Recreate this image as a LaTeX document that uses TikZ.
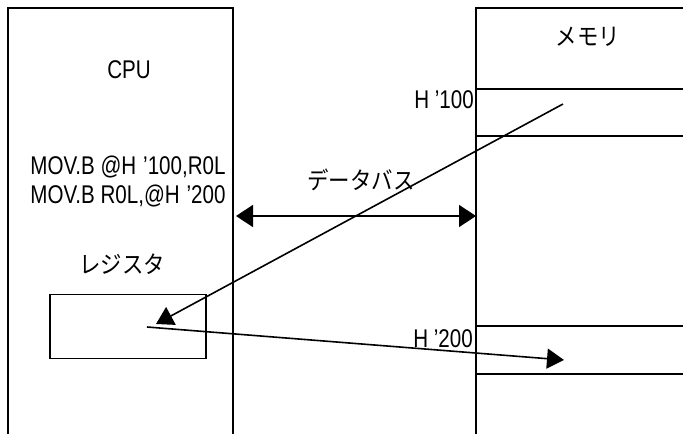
\documentclass[tikz,border=0pt]{standalone}
\usepackage{fontspec}
\setmainfont{Liberation Sans}
\newfontfamily\jp{Noto Sans CJK JP}
\usetikzlibrary{arrows.meta}
\begin{document}
\begin{tikzpicture}[x=1pt,y=-1pt,
  box/.style={line width=2pt},
  thin/.style={line width=1.6pt},
  lbl/.style={inner sep=0pt,font=\fontsize{21}{24}\selectfont,xscale=0.98,yscale=1.22},
  jlbl/.style={inner sep=0pt,font=\jp\fontsize{21}{24}\selectfont,xscale=1.02,yscale=1.15},
  tip/.style={-{Triangle[length=17pt,width=20pt]}},
  ]
\useasboundingbox (0,0) rectangle (683,434);
% CPU frame
\draw[box] (8,434) -- (8,8) -- (233,8) -- (233,434);
% memory frame
\draw[box] (683,8) -- (476,8) -- (476,434);
\draw[thin] (476,89) -- (683,89);
\draw[thin] (476,136) -- (683,136);
\draw[thin] (476,326) -- (683,326);
\draw[thin] (476,374) -- (683,374);
% labels
\node[lbl] (cpu) at (129,70) {CPU};
\node[lbl] (mov1) at (128,167) {MOV.B @H\,\,’100,R0L};
\node[lbl] (mov2) at (128,196) {MOV.B R0L,@H\,\,’200};
\node[jlbl] (regl) at (122,264) {レジスタ};
\node[jlbl] (meml) at (588,37) {メモリ};
\node[jlbl] (busl) at (361,180) {データバス};
\node[lbl,anchor=east] (h100) at (474,100) {H ’100};
\node[lbl,anchor=east] (h200) at (473,339) {H ’200};
% register
\node[draw,thin,minimum width=156pt,minimum height=64pt,inner sep=0pt] (reg) at (128,326.5) {};
% bus
\coordinate (busL) at (236,216);
\coordinate (busR) at (476,216);
\draw[thin,{Triangle[length=17pt,width=22pt]}-{Triangle[length=17pt,width=22pt]}] (busL) -- (busR);
% transfers
\coordinate (m100) at (563,104);
\coordinate (r1) at (156,324);
\coordinate (r0) at (147,327);
\coordinate (m200) at (564,360);
\draw[thin,tip] (m100) -- (r1);
\draw[thin,tip] (r0) -- (m200);
\end{tikzpicture}
\end{document}
